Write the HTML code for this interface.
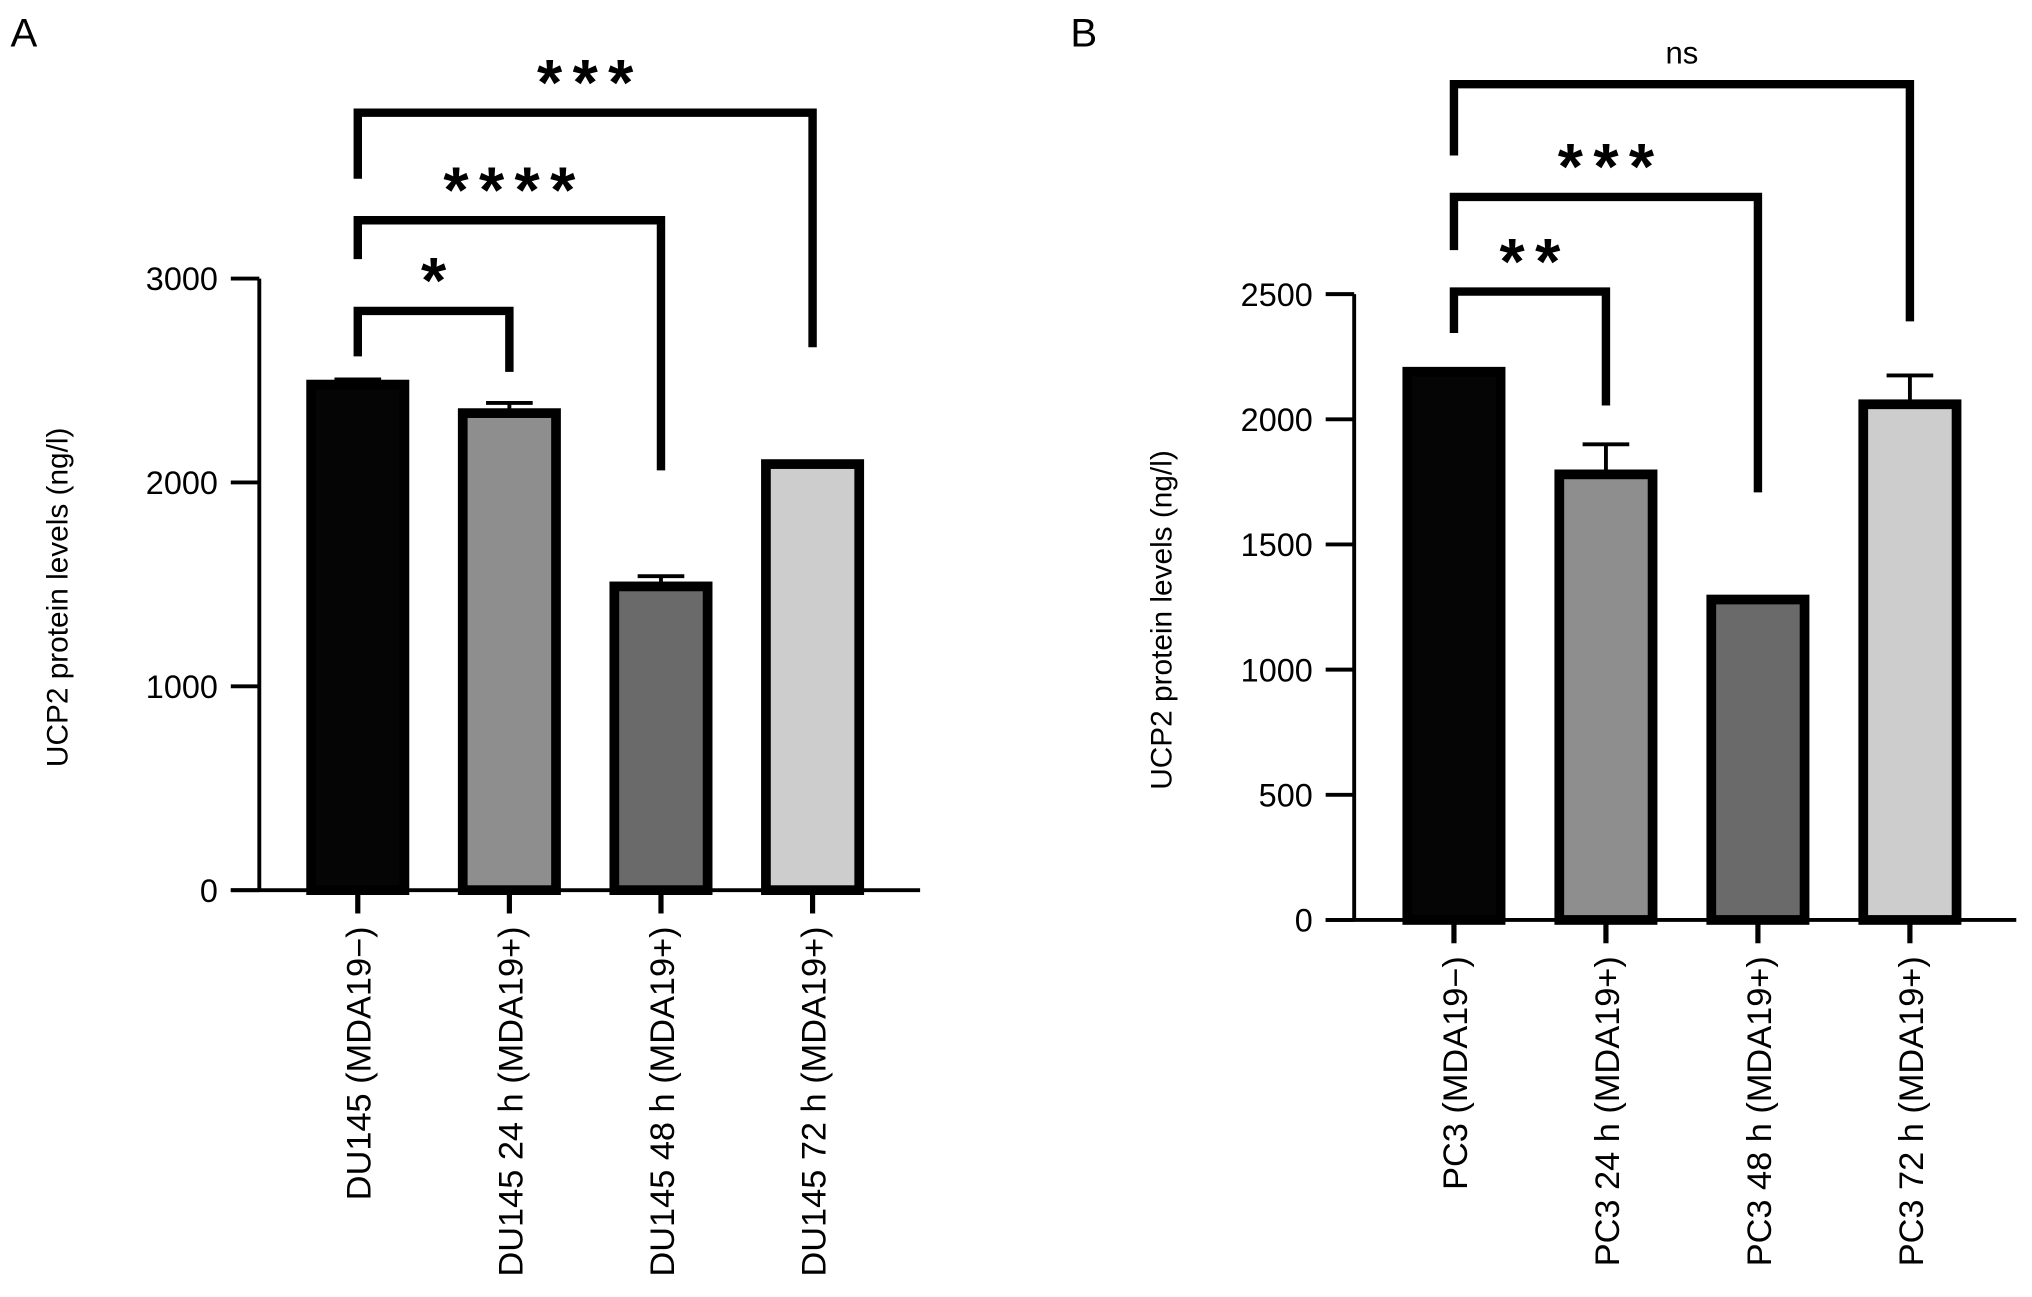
<!DOCTYPE html>
<html><head><meta charset="utf-8"><style>
html,body{margin:0;padding:0;background:#fff;}
svg{display:block;font-family:"Liberation Sans",Arial,sans-serif;}
</style></head><body>
<svg id="fig" width="2032" height="1297" viewBox="0 0 1568 1001" xmlns="http://www.w3.org/2000/svg">
<text x="8" y="36" font-size="31">A</text>
<text x="826" y="36" font-size="31">B</text>
</svg>
<script>
const catsA = ["DU145 (MDA19\u2212)","DU145 24 h (MDA19+)","DU145 48 h (MDA19+)","DU145 72 h (MDA19+)"];
const valsA = [2480, 2340, 1490, 2090];
const errA = [25, 50, 50, 12];
const ticksA = [0, 1000, 2000, 3000];
const sigA = [{a:0,b:1,label:"*"},{a:0,b:2,label:"****"},{a:0,b:3,label:"***"}];

const catsB = ["PC3 (MDA19\u2212)","PC3 24 h (MDA19+)","PC3 48 h (MDA19+)","PC3 72 h (MDA19+)"];
const valsB = [2190, 1780, 1280, 2060];
const errB = [8, 120, 10, 115];
const ticksB = [0, 500, 1000, 1500, 2000, 2500];
const sigB = [{a:0,b:1,label:"**"},{a:0,b:2,label:"***"},{a:0,b:3,label:"ns"}];

const fills = ["#050505","#8e8e8e","#6a6a6a","#cdcdcd"];
const NS = "http://www.w3.org/2000/svg";
const svg = document.getElementById("fig");
function mk(tag, attrs, parent){const e=document.createElementNS(NS,tag);for(const k in attrs)e.setAttribute(k,attrs[k]);(parent||svg).appendChild(e);return e;}

function panel(cfg){
  const g = mk("g",{});
  
  
  const y = v => cfg.y0 - (v/cfg.max)*(cfg.y0-cfg.yTop);
  const x = i => cfg.x0 + i*cfg.step;
  const ya = mk("line",{x1:cfg.ax,y1:cfg.yTop,x2:cfg.ax,y2:cfg.y0,stroke:"#000","stroke-width":3},g);
  
  
  const xa = mk("line",{x1:cfg.ax-22,y1:cfg.y0,x2:cfg.xEnd,y2:cfg.y0,stroke:"#000","stroke-width":3},g);
  
  
  cfg.ticks.forEach(t=>{
    const l = mk("line",{x1:cfg.ax-22,y1:y(t),x2:cfg.ax,y2:y(t),stroke:"#000","stroke-width":3},g);
    
    
    const tx = mk("text",{x:cfg.ax-32,y:y(t)+9,"font-size":25,"text-anchor":"end"},g);
    tx.textContent = t;
    
    
  });
  const yl = mk("text",{x:0,y:0,"font-size":23,"text-anchor":"middle",transform:`translate(${cfg.ylx},${(cfg.y0+cfg.yTop)/2+10}) rotate(-90)`},g);
  yl.textContent = "UCP2 protein levels (ng/l)";
  
  
  cfg.vals.forEach((v,i)=>{
    const cx = x(i), w = 72;
    const et = mk("line",{x1:cx,y1:y(v),x2:cx,y2:y(v+cfg.err[i]),stroke:"#000","stroke-width":3},g);
    
    
    const ec = mk("line",{x1:cx-18,y1:y(v+cfg.err[i]),x2:cx+18,y2:y(v+cfg.err[i]),stroke:"#000","stroke-width":3},g);
    
    
    const r = mk("rect",{x:cx-w/2,y:y(v),width:w,height:cfg.y0-y(v),fill:fills[i],stroke:"#000","stroke-width":7.5},g);
    
    
    const tk = mk("line",{x1:cx,y1:cfg.y0,x2:cx,y2:cfg.y0+18,stroke:"#000","stroke-width":4},g);
    
    
    const lb = mk("text",{x:0,y:0,"font-size":26.5,"text-anchor":"end",transform:`translate(${cx+10},${cfg.y0+28}) rotate(-90)`},g);
    lb.textContent = cfg.cats[i];
    
    
  });
  cfg.sig.forEach((s,k)=>{
    const b = cfg.br[k];
    const p = mk("path",{d:`M${x(s.a)},${b.l} V${b.y} H${x(s.b)} V${b.r}`,fill:"none",stroke:"#000","stroke-width":6.5},g);
    
    
    const isNs = s.label==="ns";
    const t = mk("text",{x:(x(s.a)+x(s.b))/2+(isNs?0:4),y:isNs?b.y-16:b.y-6,"font-size":isNs?24:50,"font-weight":isNs?"normal":"bold","text-anchor":"middle","letter-spacing":isNs?0:8},g);
    t.textContent = s.label;
    
    
  });
}
panel({name:"panel-a",ax:200,xEnd:710,y0:687,yTop:215,max:3000,x0:276,step:117,ylx:52,
  vals:valsA,err:errA,ticks:ticksA,cats:catsA,sig:sigA,
  br:[{y:240,l:275,r:287},{y:170,l:200,r:363},{y:87,l:138,r:268}]});
panel({name:"panel-b",ax:1045,xEnd:1556,y0:710,yTop:227,max:2500,x0:1122,step:117.3,ylx:904,
  vals:valsB,err:errB,ticks:ticksB,cats:catsB,sig:sigB,
  br:[{y:225,l:257,r:313},{y:152,l:193,r:380},{y:65,l:120,r:248}]});
</script>
</body></html>
